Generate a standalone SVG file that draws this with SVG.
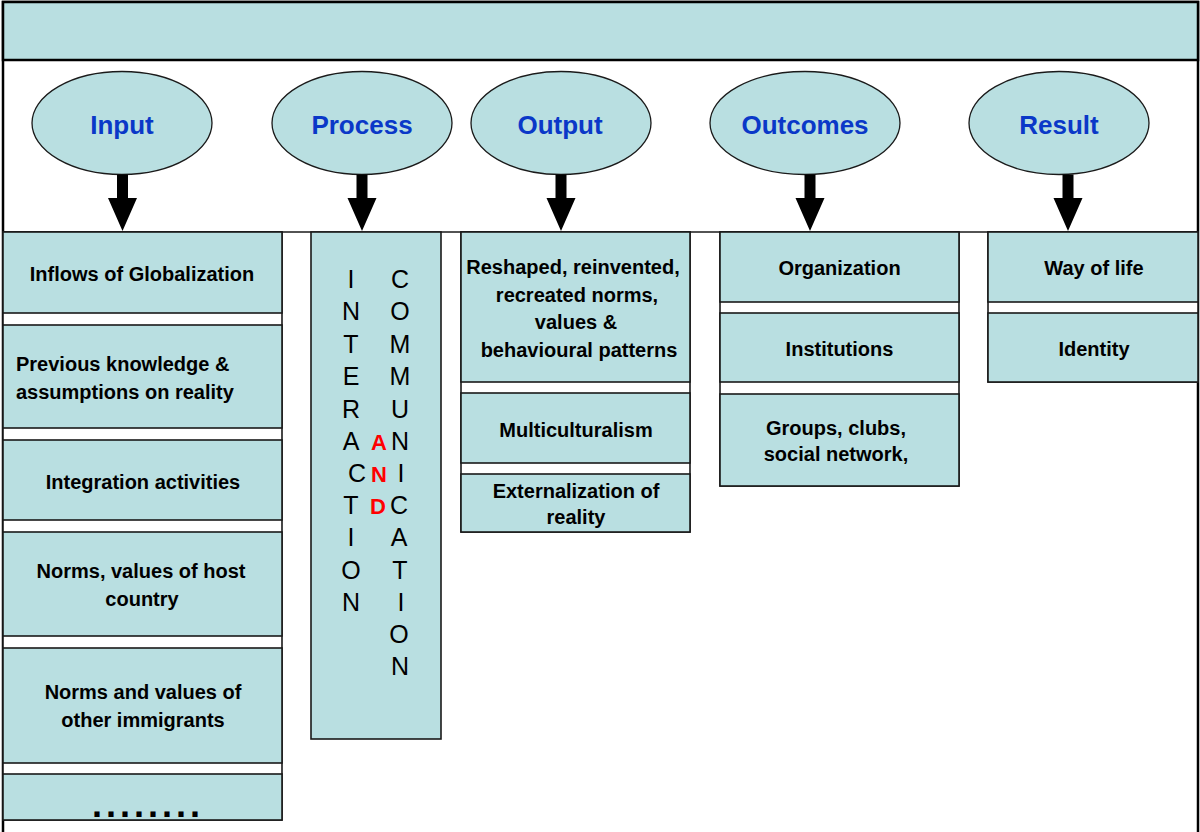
<svg xmlns="http://www.w3.org/2000/svg" width="1200" height="832" viewBox="0 0 1200 832">
<style>
.box{fill:#b9dfe1;stroke:#1a1a1a;stroke-width:1.6}
.col{fill:#ffffff;stroke:#1a1a1a;stroke-width:1.6}
.ell{fill:#b9dfe1;stroke:#1a1a1a;stroke-width:1.3}
.lbl{font-family:"Liberation Sans",Arial,sans-serif;font-weight:bold;font-size:26px;fill:#0a38c8;text-anchor:middle}
.t{font-family:"Liberation Sans",Arial,sans-serif;font-weight:bold;font-size:20px;fill:#000;text-anchor:middle}
.v{font-family:"Liberation Sans",Arial,sans-serif;font-size:25px;fill:#000;text-anchor:middle}
.r{font-family:"Liberation Sans",Arial,sans-serif;font-weight:bold;font-size:22px;fill:#ff0000;text-anchor:middle}
.arr{fill:#000}
</style>
<rect x="0" y="0" width="1200" height="832" fill="#ffffff"/>
<g id="frame">
<rect x="3" y="2" width="1195" height="845" fill="#ffffff" stroke="#000" stroke-width="2.5"/>
<rect x="3" y="2" width="1195" height="58" fill="#b9dfe1" stroke="#000" stroke-width="2.5"/>
<line x1="3" y1="232" x2="1198" y2="232" stroke="#1a1a1a" stroke-width="1.6"/>
</g>
<g id="input-column">
<rect class="col" x="3" y="232" width="279" height="588"/>
<g id="inflows"><rect class="box" x="3" y="232" width="279" height="81"/><text class="t" x="142" y="281">Inflows of Globalization</text></g>
<g id="previous"><rect class="box" x="3" y="325" width="279" height="103"/><text class="t" x="16" y="371" style="text-anchor:start">Previous knowledge &amp;</text><text class="t" x="16" y="399" style="text-anchor:start">assumptions on reality</text></g>
<g id="integration"><rect class="box" x="3" y="440" width="279" height="80"/><text class="t" x="143" y="489">Integration activities</text></g>
<g id="norms-host"><rect class="box" x="3" y="532" width="279" height="104"/><text class="t" x="141" y="578">Norms, values of host</text><text class="t" x="142" y="606">country</text></g>
<g id="norms-other"><rect class="box" x="3" y="648" width="279" height="115"/><text class="t" x="143" y="699">Norms and values of</text><text class="t" x="143" y="727">other immigrants</text></g>
<g id="more"><rect class="box" x="3" y="774" width="279" height="46"/><text x="92" y="817" style="font-family:'Liberation Sans',Arial,sans-serif;font-weight:bold;font-size:36px;letter-spacing:4px" fill="#000">........</text></g>
</g>
<g id="process-column">
<rect class="box" x="311" y="232" width="130" height="507"/>
<text class="v"><tspan x="351" y="288">I</tspan><tspan x="351" y="320">N</tspan><tspan x="351" y="353">T</tspan><tspan x="351" y="385">E</tspan><tspan x="351" y="418">R</tspan><tspan x="351" y="450">A</tspan><tspan x="357" y="482">C</tspan><tspan x="351" y="514">T</tspan><tspan x="351" y="546">I</tspan><tspan x="351" y="579">O</tspan><tspan x="351" y="611">N</tspan></text>
<text class="r"><tspan x="379" y="450">A</tspan><tspan x="379" y="482">N</tspan><tspan x="378" y="514">D</tspan></text>
<text class="v"><tspan x="400" y="288">C</tspan><tspan x="400" y="320">O</tspan><tspan x="400" y="353">M</tspan><tspan x="400" y="385">M</tspan><tspan x="400" y="418">U</tspan><tspan x="400" y="450">N</tspan><tspan x="401" y="482">I</tspan><tspan x="399" y="514">C</tspan><tspan x="399" y="546">A</tspan><tspan x="400" y="579">T</tspan><tspan x="401" y="611">I</tspan><tspan x="399" y="643">O</tspan><tspan x="400" y="675">N</tspan></text>
</g>
<g id="output-column">
<rect class="col" x="461" y="232" width="229" height="300"/>
<g id="reshaped"><rect class="box" x="461" y="232" width="229" height="150"/><text class="t" x="573" y="274">Reshaped, reinvented,</text><text class="t" x="577" y="302">recreated norms,</text><text class="t" x="576" y="329">values &amp;</text><text class="t" x="579" y="357">behavioural patterns</text></g>
<g id="multiculturalism"><rect class="box" x="461" y="393" width="229" height="70"/><text class="t" x="576" y="437">Multiculturalism</text></g>
<g id="externalization"><rect class="box" x="461" y="474" width="229" height="58"/><text class="t" x="576" y="498">Externalization of</text><text class="t" x="576" y="524">reality</text></g>
</g>
<g id="outcomes-column">
<rect class="col" x="720" y="232" width="239" height="254"/>
<g id="organization"><rect class="box" x="720" y="232" width="239" height="70"/><text class="t" x="839.5" y="275">Organization</text></g>
<g id="institutions"><rect class="box" x="720" y="313" width="239" height="69"/><text class="t" x="839.5" y="356">Institutions</text></g>
<g id="groups"><rect class="box" x="720" y="394" width="239" height="92"/><text class="t" x="836" y="435">Groups, clubs,</text><text class="t" x="836" y="461">social network,</text></g>
</g>
<g id="result-column">
<rect class="col" x="988" y="232" width="210" height="150"/>
<g id="way-of-life"><rect class="box" x="988" y="232" width="210" height="70"/><text class="t" x="1094" y="275">Way of life</text></g>
<g id="identity"><rect class="box" x="988" y="313" width="210" height="69"/><text class="t" x="1094" y="356">Identity</text></g>
</g>
<g id="node-input"><ellipse class="ell" cx="122" cy="123" rx="90" ry="51.5"/><text class="lbl" x="122" y="134">Input</text></g>
<g id="node-process"><ellipse class="ell" cx="362" cy="123" rx="90" ry="51.5"/><text class="lbl" x="362" y="134">Process</text></g>
<g id="node-output"><ellipse class="ell" cx="561" cy="123" rx="90" ry="51.5"/><text class="lbl" x="560" y="134">Output</text></g>
<g id="node-outcomes"><ellipse class="ell" cx="805" cy="123" rx="95" ry="51.5"/><text class="lbl" x="805" y="134">Outcomes</text></g>
<g id="node-result"><ellipse class="ell" cx="1059" cy="123" rx="90" ry="51.5"/><text class="lbl" x="1059" y="134">Result</text></g>
<g id="connectors">
<path class="arr" d="M117,174.5 H128 V198 H137 L122.5,231 L108,198 H117 Z"/>
<path class="arr" d="M356.5,174.5 H367.5 V198 H376.5 L362,231 L347.5,198 H356.5 Z"/>
<path class="arr" d="M555.5,174.5 H566.5 V198 H575.5 L561,231 L546.5,198 H555.5 Z"/>
<path class="arr" d="M804.5,174.5 H815.5 V198 H824.5 L810,231 L795.5,198 H804.5 Z"/>
<path class="arr" d="M1062.5,174.5 H1073.5 V198 H1082.5 L1068,231 L1053.5,198 H1062.5 Z"/>
</g>
</svg>
